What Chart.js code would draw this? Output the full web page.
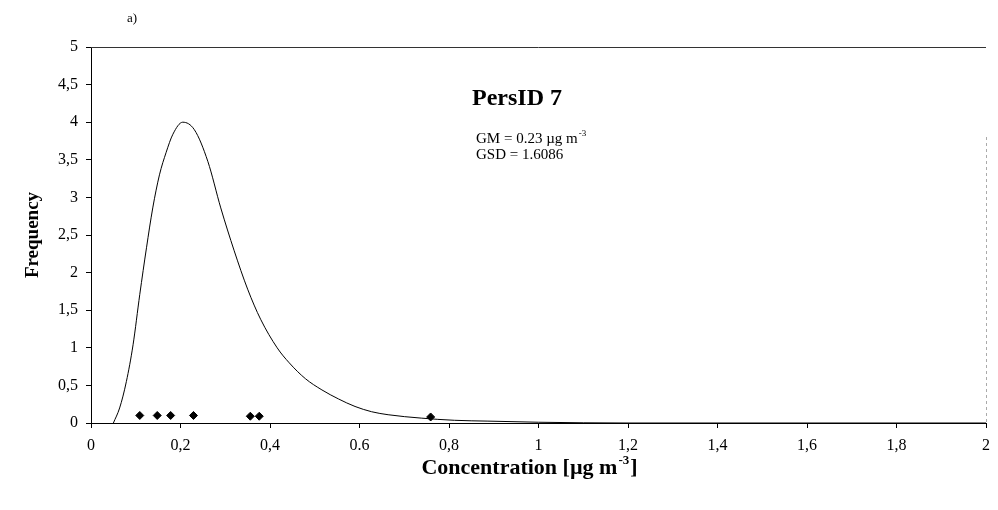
<!DOCTYPE html>
<html>
<head>
<meta charset="utf-8">
<script src="https://cdn.jsdelivr.net/npm/chart.js@4/dist/chart.umd.min.js"></script>
<style>
  html, body { margin: 0; padding: 0; background: #fff; }
  #wrap { width: 998px; height: 510px; }
</style>
</head>
<body>
<div id="wrap"><canvas id="chart" width="998" height="510"></canvas></div>
<script>
// fitted lognormal curve
const curveX = [0.050, 0.064, 0.079, 0.094, 0.109, 0.124, 0.138, 0.153, 0.168, 0.183, 0.205, 0.231, 0.261, 0.290, 0.320, 0.350, 0.379, 0.416, 0.443, 0.479, 0.516, 0.553, 0.590, 0.627, 0.664, 0.738, 0.812, 0.887, 1.0, 1.2, 2.0];
const curveY = [0, 0.20, 0.55, 1.04, 1.71, 2.33, 2.86, 3.30, 3.60, 3.84, 4.00, 3.90, 3.48, 2.86, 2.29, 1.78, 1.38, 1.00, 0.80, 0.59, 0.44, 0.32, 0.22, 0.15, 0.11, 0.065, 0.036, 0.025, 0.01, 0, 0];

// measured concentrations (diamonds)
const obsX = [0.109, 0.148, 0.178, 0.229, 0.356, 0.376, 0.759];
const obsY = [0.1, 0.1, 0.1, 0.1, 0.09, 0.09, 0.08];

const xTickLabels = ['0', '0,2', '0,4', '0.6', '0,8', '1', '1,2', '1,4', '1,6', '1,8', '2'];
const yTickLabels = ['0', '0,5', '1', '1,5', '2', '2,5', '3', '3,5', '4', '4,5', '5'];

const serif = "'Liberation Serif', 'DejaVu Serif', serif";

const textPlugin = {
    id: 'texts',
    afterDraw(chart) {
        const ctx = chart.ctx;
        const a = chart.chartArea;
        ctx.save();
        // top and right frame
        ctx.strokeStyle = '#333';
        ctx.lineWidth = 1;
        ctx.beginPath();
        ctx.moveTo(a.left, a.top + 0.5);
        ctx.lineTo(a.right, a.top + 0.5);
        ctx.stroke();
        ctx.strokeStyle = '#aaa';
        ctx.setLineDash([3, 3]);
        ctx.beginPath();
        ctx.moveTo(a.right + 0.5, a.top + 90);
        ctx.lineTo(a.right + 0.5, a.bottom);
        ctx.stroke();
        ctx.setLineDash([]);

        ctx.fillStyle = '#000';
        ctx.textBaseline = 'alphabetic';
        ctx.textAlign = 'left';
        ctx.font = '13px ' + serif;
        ctx.fillText('a)', 127, 22);

        ctx.font = 'bold 24px ' + serif;
        ctx.fillText('PersID 7', 472, 105);

        ctx.font = '15px ' + serif;
        const gm = 'GM = 0.23 \u00b5g m';
        ctx.fillText(gm, 476, 143);
        let w = ctx.measureText(gm).width;
        ctx.font = '9px ' + serif;
        ctx.fillText('-3', 476 + w + 1, 136);
        ctx.font = '15px ' + serif;
        ctx.fillText('GSD = 1.6086', 476, 159);

        // x axis title with superscript
        const t1 = 'Concentration [\u00b5g m';
        const sup = '-3';
        const t2 = ']';
        ctx.font = 'bold 22px ' + serif;
        const w1 = ctx.measureText(t1).width;
        const w3 = ctx.measureText(t2).width;
        ctx.font = 'bold 13px ' + serif;
        const w2 = ctx.measureText(sup).width;
        let x = (a.left + a.right) / 2 - 10 - (w1 + w2 + w3) / 2;
        ctx.font = 'bold 22px ' + serif;
        ctx.fillText(t1, x, 474);
        ctx.font = 'bold 13px ' + serif;
        ctx.fillText(sup, x + w1 + 1, 464);
        ctx.font = 'bold 22px ' + serif;
        ctx.fillText(t2, x + w1 + w2 + 2, 474);
        ctx.restore();
    }
};

new Chart(document.getElementById('chart'), {
    type: 'scatter',
    data: {
        datasets: [{
            label: 'fit',
            data: curveX.map((x, i) => ({ x: x, y: curveY[i] })),
            showLine: true,
            borderColor: '#000',
            borderWidth: 1,
            pointRadius: 0,
            cubicInterpolationMode: 'monotone',
            fill: false
        }, {
            label: 'obs',
            data: obsX.map((x, i) => ({ x: x, y: obsY[i] })),
            pointStyle: 'rectRot',
            pointRadius: 4,
            backgroundColor: '#000',
            borderColor: '#000',
            borderWidth: 1
        }]
    },
    options: {
        responsive: false,
        animation: false,
        layout: { padding: { top: 47, right: 6, left: 0, bottom: 0 } },
        plugins: {
            legend: { display: false },
            tooltip: { enabled: false }
        },
        scales: {
            x: {
                type: 'linear',
                min: 0,
                max: 2,
                afterFit: s => { s.height = 87; },
                afterBuildTicks: s => {
                    s.ticks = xTickLabels.map((t, i) => ({ value: i * 0.2 }));
                },
                ticks: {
                    stepSize: 0.2,
                    color: '#000',
                    padding: 8,
                    maxRotation: 0,
                    font: { family: serif, size: 16 },
                    callback: (v, i) => xTickLabels[i]
                },
                grid: { drawOnChartArea: false, drawTicks: true, tickLength: 5, color: '#000' },
                border: { display: true, color: '#000', width: 1 }
            },
            y: {
                type: 'linear',
                min: 0,
                max: 5,
                afterFit: s => { s.width = 91; },
                afterBuildTicks: s => {
                    s.ticks = yTickLabels.map((t, i) => ({ value: i * 0.5 }));
                },
                ticks: {
                    stepSize: 0.5,
                    color: '#000',
                    padding: 8,
                    font: { family: serif, size: 16 },
                    callback: (v, i) => yTickLabels[i]
                },
                grid: { drawOnChartArea: false, drawTicks: true, tickLength: 5, color: '#000' },
                border: { display: true, color: '#000', width: 1 },
                title: {
                    display: true,
                    text: 'Frequency',
                    color: '#000',
                    font: { family: serif, size: 19, weight: 'bold' },
                    padding: { top: 22, bottom: 0 }
                }
            }
        }
    },
    plugins: [textPlugin]
});
</script>
</body>
</html>
